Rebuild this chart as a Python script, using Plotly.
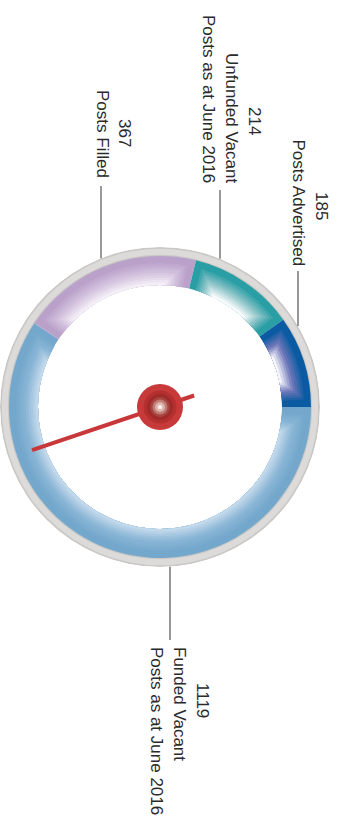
import numpy as np
import plotly.graph_objects as go

# ---- data ----
categories = [
    "Funded Vacant Posts as at June 2016",
    "Posts Filled",
    "Unfunded Vacant Posts as at June 2016",
    "Posts Advertised",
]
values = [1119, 367, 214, 185]
label_names = [
    ["Funded Vacant", "Posts as at June 2016"],
    ["Posts Filled"],
    ["Unfunded Vacant", "Posts as at June 2016"],
    ["Posts Advertised"],
]
needle_value = 845

# ---- styling ----
W, H = 342, 818
CX, CY = 160, 407          # gauge centre (px)
R_OUT, R_RIM, R_IN = 160, 151, 122
seg_colors = [
    ["#73a7cc", "#8ab6d6", "#c2d8eb"],
    ["#baa1ca", "#d3c2de", "#f4eff7"],
    ["#2a9ea5", "#8ec5c9", "#f8fbfb"],
    ["#0b5ba2", "#7077b9", "#f6f6fb"],
]
TEXT = "#2a2a2a"
FONT = dict(family="Liberation Sans, Arial, sans-serif", size=17, color=TEXT)

# label layout: x of each text line (value first), aligned edge y, value centre y
label_layout = [
    dict(xs=[203, 180, 157], edge=645, align="top", vy=700, lead_x=170, lead_end=640),
    dict(xs=[125, 103], edge=180, align="bottom", vy=133, lead_x=101, lead_end=186),
    dict(xs=[254, 231, 208], edge=185, align="bottom", vy=121, lead_x=220, lead_end=190),
    dict(xs=[322, 298], edge=268, align="bottom", vy=206, lead_x=298, lead_end=271),
]


def hex2rgb(h):
    h = h.lstrip("#")
    return np.array([int(h[i:i + 2], 16) for i in (0, 2, 4)], float)


def blend(stops, t):
    pts = [hex2rgb(s) for s in stops]
    seg = min(int(t * (len(pts) - 1)), len(pts) - 2)
    lt = t * (len(pts) - 1) - seg
    c = pts[seg] * (1 - lt) + pts[seg + 1] * lt
    return "rgb(%d,%d,%d)" % tuple(np.round(c))


total = float(sum(values))
spans = [v / total * 360.0 for v in values]
starts = np.concatenate([[0.0], np.cumsum(spans)[:-1]])
mids = starts + np.array(spans) / 2

fig = go.Figure()

# outer grey rim
for base, size, col in [(R_RIM - 0.5, R_OUT - R_RIM + 0.5, "#c9c8c6"),
                        (R_RIM + 1.2, R_OUT - R_RIM - 3.0, "#dcdbd9")]:
    fig.add_trace(go.Barpolar(theta=[90, 270], width=[180, 180], base=[base, base],
                              r=[size, size], marker=dict(color=col, line=dict(width=0)),
                              hoverinfo="skip", showlegend=False))

# bevelled segments: nested insets that lighten toward the inner edge
FRAME, N = 7.0, 9
STEP = (R_RIM - R_IN - FRAME) / N
r_mid = (R_RIM + R_IN) / 2
for k in range(N + 1):
    inset = 0.0 if k == 0 else FRAME + (k - 1) * STEP
    ang = np.degrees(inset / r_mid)
    widths = [max(s - 2 * ang, 0.5) for s in spans]
    cols = [blend(c, k / N) for c in seg_colors]
    fig.add_trace(go.Barpolar(
        theta=list(mids), width=widths, base=[R_IN] * 4,
        r=[R_RIM - inset - R_IN] * 4,
        marker=dict(color=cols, line=dict(width=0)),
        hoverinfo="skip", showlegend=False))

# needle
a = needle_value / total * 360.0
fig.add_trace(go.Scatterpolar(r=[36, 0, 135], theta=[a + 180, a, a], mode="lines",
                              line=dict(color="#c8383a", width=4),
                              hoverinfo="skip", showlegend=False))
# hub
for size, col in [(46, "#c8393a"), (33, "#b3302f"), (26, "#9f2a29"), (20, "#a8443f"),
                  (15, "#c07b74"), (10, "#ddb0aa"), (5, "#f4e2df"), (2, "#ffffff")]:
    fig.add_trace(go.Scatterpolar(r=[0], theta=[0], mode="markers",
                                  marker=dict(size=size, color=col, line=dict(width=0)),
                                  hoverinfo="skip", showlegend=False))

fig.update_layout(
    width=W, height=H, margin=dict(l=0, r=0, t=0, b=0),
    paper_bgcolor="white", plot_bgcolor="white",
    polar=dict(
        domain=dict(x=[(CX - R_OUT) / W, (CX + R_OUT) / W],
                    y=[(H - CY - R_OUT) / H, (H - CY + R_OUT) / H]),
        bgcolor="rgba(0,0,0,0)", bargap=0,
        radialaxis=dict(range=[0, R_OUT], visible=False),
        angularaxis=dict(direction="clockwise", rotation=0, visible=False),
    ),
)


def px(x, y):
    return x / W, 1 - y / H


annotations, shapes = [], []
for v, names, lay in zip(values, label_names, label_layout):
    xs = lay["xs"]
    x0, y0 = px(xs[0], lay["vy"])
    annotations.append(dict(text=str(v), x=x0, y=y0, xref="paper", yref="paper",
                            showarrow=False, textangle=90, font=FONT,
                            xanchor="center", yanchor="middle"))
    for xl, name in zip(xs[1:], names):
        xx, yy = px(xl, lay["edge"])
        annotations.append(dict(text=name, x=xx, y=yy, xref="paper", yref="paper",
                                showarrow=False, textangle=90, font=FONT,
                                xanchor="center", yanchor=lay["align"]))
    # leader line from the text to the rim
    dx = lay["lead_x"] - CX
    dy = np.sqrt(R_OUT ** 2 - dx ** 2)
    rim_y = CY - dy if lay["align"] == "bottom" else CY + dy
    lx, ly1 = px(lay["lead_x"], lay["lead_end"])
    _, ly2 = px(lay["lead_x"], rim_y)
    shapes.append(dict(type="line", xref="paper", yref="paper", x0=lx, x1=lx,
                       y0=ly1, y1=ly2, line=dict(color="#333333", width=1)))

fig.update_layout(annotations=annotations, shapes=shapes)
fig.write_html("out.html")
